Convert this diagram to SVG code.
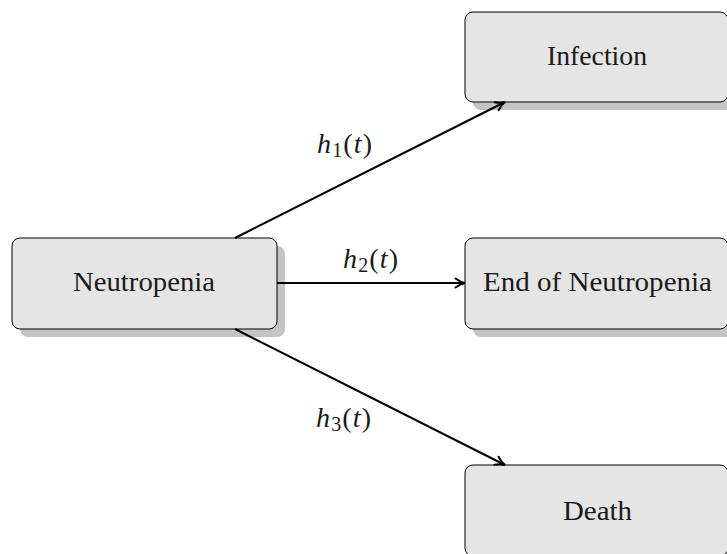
<svg xmlns="http://www.w3.org/2000/svg" width="727" height="554" viewBox="0 0 727 554">
<defs>
<marker id="ah" viewBox="0 0 12 12" refX="11" refY="6" markerWidth="12" markerHeight="12" markerUnits="userSpaceOnUse" orient="auto">
<path d="M1.5,1.5 Q6,5 11,6 Q6,7 1.5,10.5" fill="none" stroke="#000" stroke-width="2" stroke-linecap="round"/>
</marker>
</defs>
<style>
.shadow{fill:#c4c4c4}
.box{fill:#e5e5e5;stroke:#000;stroke-width:1}
.lbl{font-family:"Liberation Serif","DejaVu Serif",serif;font-size:27px;fill:#1a1a1a;text-anchor:middle}
.math{font-family:"Liberation Serif","DejaVu Serif",serif;font-size:28px;fill:#1a1a1a}
.edge{stroke:#000;stroke-width:2;fill:none}
</style>
<g id="neutropenia">
<rect class="shadow" x="20" y="246" width="265" height="91" rx="8"/>
<rect class="box" x="12" y="238" width="265" height="91" rx="8"/>
<text class="lbl" x="144" y="291" textLength="142" lengthAdjust="spacingAndGlyphs">Neutropenia</text>
</g>
<g id="infection">
<rect class="shadow" x="473" y="20" width="265" height="90" rx="8"/>
<rect class="box" x="465" y="12" width="263" height="90" rx="8"/>
<text class="lbl" x="597" y="65" textLength="100" lengthAdjust="spacingAndGlyphs">Infection</text>
</g>
<g id="end">
<rect class="shadow" x="473" y="246" width="265" height="91" rx="8"/>
<rect class="box" x="465" y="238" width="263" height="91" rx="8"/>
<text class="lbl" x="597.5" y="291" textLength="229" lengthAdjust="spacingAndGlyphs">End of Neutropenia</text>
</g>
<g id="death">
<rect class="shadow" x="473" y="473" width="265" height="91" rx="8"/>
<rect class="box" x="465" y="465" width="263" height="91" rx="8"/>
<text class="lbl" x="597.5" y="520" textLength="69" lengthAdjust="spacingAndGlyphs">Death</text>
</g>
<g id="connectors">
<line class="edge" x1="235" y1="238" x2="505" y2="102" marker-end="url(#ah)"/>
<line class="edge" x1="277" y1="283" x2="465" y2="283" marker-end="url(#ah)"/>
<line class="edge" x1="235" y1="329" x2="505" y2="465" marker-end="url(#ah)"/>
</g>
<g id="labels">
<text class="math" x="317" y="153" textLength="55" lengthAdjust="spacing"><tspan font-style="italic">h</tspan><tspan font-size="20" dy="4">1</tspan><tspan dy="-4">(</tspan><tspan font-style="italic">t</tspan><tspan>)</tspan></text>
<text class="math" x="343" y="268" textLength="55" lengthAdjust="spacing"><tspan font-style="italic">h</tspan><tspan font-size="20" dy="4">2</tspan><tspan dy="-4">(</tspan><tspan font-style="italic">t</tspan><tspan>)</tspan></text>
<text class="math" x="316" y="427" textLength="55" lengthAdjust="spacing"><tspan font-style="italic">h</tspan><tspan font-size="20" dy="4">3</tspan><tspan dy="-4">(</tspan><tspan font-style="italic">t</tspan><tspan>)</tspan></text>
</g>
</svg>
